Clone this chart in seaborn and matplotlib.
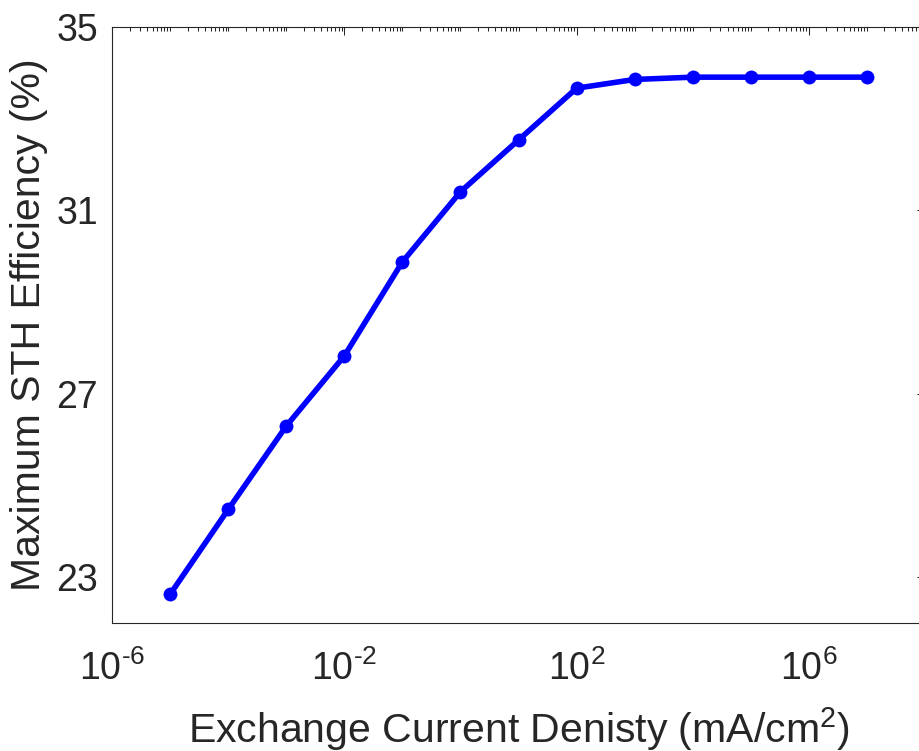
import numpy as np
import pandas as pd
import matplotlib
matplotlib.use("Agg")
import matplotlib.pyplot as plt
import matplotlib.ticker as mticker
import seaborn as sns

# exchange current density (mA/cm^2) and max STH efficiency (%)
current_density = [1e-5, 1e-4, 1e-3, 1e-2, 1e-1, 1e0, 1e1, 1e2, 1e3, 1e4, 1e5, 1e6, 1e7]
sth_efficiency = [22.62, 24.47, 26.29, 27.82, 29.87, 31.40, 32.53, 33.66, 33.85, 33.90, 33.90, 33.90, 33.90]

x_ticks = [1e-6, 1e-2, 1e2, 1e6]
x_ticklabels = ["10$^{\u2010" + "6}$", "10$^{\u2010" + "2}$", "10$^{2}$", "10$^{6}$"]
y_ticks = [23, 27, 31, 35]

sns.set_theme(style="white")
plt.rcParams["font.family"] = ["Liberation Sans", "DejaVu Sans"]
plt.rcParams["mathtext.fontset"] = "custom"
plt.rcParams["mathtext.rm"] = "Liberation Sans"
plt.rcParams["mathtext.it"] = "Liberation Sans:italic"
plt.rcParams["mathtext.default"] = "regular"

df = pd.DataFrame({"j0": current_density, "eff": sth_efficiency})

fig = plt.figure(figsize=(9.19, 7.51), dpi=100)
ax = fig.add_axes([0.1219, 0.1708, 0.8847, 0.7936])
ax.set_xscale("log")

sns.lineplot(data=df, x="j0", y="eff", ax=ax, color="#0000ff", linewidth=4,
             marker="o", markersize=10, markeredgecolor="#0000ff", markeredgewidth=0)

ax.set_xlim(1e-6, 1e8)
ax.set_ylim(22, 35)
ax.set_xticks(x_ticks)
ax.set_xticklabels(x_ticklabels)
ax.xaxis.set_minor_locator(mticker.LogLocator(base=10, subs=np.arange(1, 10), numticks=100))
ax.xaxis.set_minor_formatter(mticker.NullFormatter())
ax.set_yticks(y_ticks)

edge = "#262626"
for s in ax.spines.values():
    s.set_color(edge)
    s.set_linewidth(0.8)
ax.tick_params(which="both", direction="in", top=True, right=True, color=edge,
               width=0.75, labelsize=27, labelcolor="#262626")
ax.tick_params(which="major", length=6)
ax.tick_params(which="minor", length=3)
ax.tick_params(axis="y", pad=10)
ax.tick_params(axis="x", pad=20)

ax.set_xlabel("Exchange Current Denisty (mA/cm$^{2}$)", fontsize=29.5, color="#262626", labelpad=12)
ax.set_ylabel("Maximum STH Efficiency (%)", fontsize=29.5, color="#262626", labelpad=6)

fig.savefig("out.png", dpi=100)
